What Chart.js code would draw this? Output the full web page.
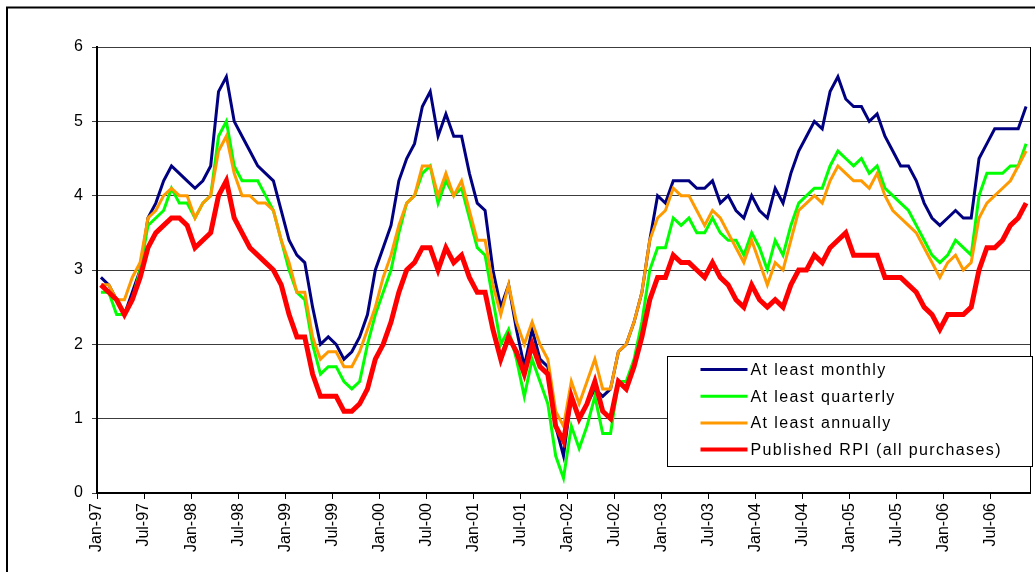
<!DOCTYPE html>
<html lang="fr">
<head>
<meta charset="utf-8">
<title>Inflation par fréquence d'achat</title>
<script src="https://cdn.jsdelivr.net/npm/chart.js@4.4.1/dist/chart.umd.min.js"></script>
<style>
  html, body { margin: 0; padding: 0; background: #fff; }
  #graphique { display: block; }
</style>
</head>
<body>
<canvas id="graphique" width="1035" height="572"></canvas>
<script>
// Catégories : un point par mois, de janvier 1997 à novembre 2006
const moisNoms = ['Jan', 'Feb', 'Mar', 'Apr', 'May', 'Jun', 'Jul', 'Aug', 'Sep', 'Oct', 'Nov', 'Dec'];
const annees = ['97', '98', '99', '00', '01', '02', '03', '04', '05', '06'];
const mois = [];
annees.forEach(a => moisNoms.forEach(m => mois.push(`${m}-${a}`)));
mois.length = 119;

// Graduations de l'axe vertical
const graduationsY = [0, 1, 2, 3, 4, 5, 6];

// Séries (en %)
const auMoinsMensuel = [
  2.9, 2.8, 2.6, 2.4, 2.7, 3.0, 3.7, 3.9, 4.2, 4.4, 4.3, 4.2,
  4.1, 4.2, 4.4, 5.4, 5.6, 5.0, 4.8, 4.6, 4.4, 4.3, 4.2, 3.8,
  3.4, 3.2, 3.1, 2.5, 2.0, 2.1, 2.0, 1.8, 1.9, 2.1, 2.4, 3.0,
  3.3, 3.6, 4.2, 4.5, 4.7, 5.2, 5.4, 4.8, 5.1, 4.8, 4.8, 4.3,
  3.9, 3.8, 3.0, 2.5, 2.8, 2.2, 1.7, 2.2, 1.8, 1.7, 0.9, 0.5,
  1.3, 1.0, 1.2, 1.4, 1.3, 1.4, 1.9, 2.0, 2.3, 2.7, 3.4, 4.0,
  3.9, 4.2, 4.2, 4.2, 4.1, 4.1, 4.2, 3.9, 4.0, 3.8, 3.7, 4.0,
  3.8, 3.7, 4.1, 3.9, 4.3, 4.6, 4.8, 5.0, 4.9, 5.4, 5.6, 5.3,
  5.2, 5.2, 5.0, 5.1, 4.8, 4.6, 4.4, 4.4, 4.2, 3.9, 3.7, 3.6,
  3.7, 3.8, 3.7, 3.7, 4.5, 4.7, 4.9, 4.9, 4.9, 4.9, 5.2
];
const auMoinsTrimestriel = [
  2.7, 2.7, 2.4, 2.4, 2.6, 3.0, 3.6, 3.7, 3.8, 4.1, 3.9, 3.9,
  3.7, 3.9, 4.0, 4.8, 5.0, 4.4, 4.2, 4.2, 4.2, 4.0, 3.8, 3.4,
  3.0, 2.7, 2.6, 2.0, 1.6, 1.7, 1.7, 1.5, 1.4, 1.5, 2.0, 2.4,
  2.7, 3.0, 3.5, 3.9, 4.0, 4.3, 4.4, 3.9, 4.2, 4.0, 4.1, 3.7,
  3.3, 3.2, 2.6, 2.0, 2.2, 1.8, 1.3, 1.8, 1.5, 1.2, 0.5, 0.2,
  0.9, 0.6, 0.9, 1.3, 0.8, 0.8, 1.5, 1.5, 1.8, 2.3, 3.0, 3.3,
  3.3, 3.7, 3.6, 3.7, 3.5, 3.5, 3.7, 3.5, 3.4, 3.4, 3.2, 3.5,
  3.3, 3.0, 3.4, 3.2, 3.6, 3.9, 4.0, 4.1, 4.1, 4.4, 4.6, 4.5,
  4.4, 4.5, 4.3, 4.4, 4.1, 4.0, 3.9, 3.8, 3.6, 3.4, 3.2, 3.1,
  3.2, 3.4, 3.3, 3.2, 4.0, 4.3, 4.3, 4.3, 4.4, 4.4, 4.7
];
const auMoinsAnnuel = [
  2.8, 2.8, 2.6, 2.6, 2.9, 3.1, 3.7, 3.8, 4.0, 4.1, 4.0, 4.0,
  3.7, 3.9, 4.0, 4.6, 4.8, 4.3, 4.0, 4.0, 3.9, 3.9, 3.8, 3.4,
  3.1, 2.7, 2.7, 2.1, 1.8, 1.9, 1.9, 1.7, 1.7, 1.9, 2.2, 2.5,
  2.9, 3.2, 3.6, 3.9, 4.0, 4.4, 4.4, 4.0, 4.3, 4.0, 4.2, 3.8,
  3.4, 3.4, 2.8, 2.4, 2.8, 2.3, 2.0, 2.3, 2.0, 1.8, 1.1, 0.9,
  1.5, 1.2, 1.5, 1.8, 1.4, 1.4, 1.9, 2.0, 2.3, 2.7, 3.4, 3.7,
  3.8, 4.1, 4.0, 4.0, 3.8, 3.6, 3.8, 3.7, 3.5, 3.3, 3.1, 3.4,
  3.1, 2.8, 3.1, 3.0, 3.4, 3.8, 3.9, 4.0, 3.9, 4.2, 4.4, 4.3,
  4.2, 4.2, 4.1, 4.3, 4.0, 3.8, 3.7, 3.6, 3.5, 3.3, 3.1, 2.9,
  3.1, 3.2, 3.0, 3.1, 3.7, 3.9, 4.0, 4.1, 4.2, 4.4, 4.6
];
const rpiPublie = [
  2.8, 2.7, 2.6, 2.4, 2.6, 2.9, 3.3, 3.5, 3.6, 3.7, 3.7, 3.6,
  3.3, 3.4, 3.5, 4.0, 4.2, 3.7, 3.5, 3.3, 3.2, 3.1, 3.0, 2.8,
  2.4, 2.1, 2.1, 1.6, 1.3, 1.3, 1.3, 1.1, 1.1, 1.2, 1.4, 1.8,
  2.0, 2.3, 2.7, 3.0, 3.1, 3.3, 3.3, 3.0, 3.3, 3.1, 3.2, 2.9,
  2.7, 2.7, 2.2, 1.8, 2.1, 1.9, 1.6, 2.0, 1.7, 1.6, 0.9, 0.7,
  1.3, 1.0, 1.2, 1.5, 1.1, 1.0, 1.5, 1.4, 1.7, 2.1, 2.6, 2.9,
  2.9, 3.2, 3.1, 3.1, 3.0, 2.9, 3.1, 2.9, 2.8, 2.6, 2.5, 2.8,
  2.6, 2.5, 2.6, 2.5, 2.8, 3.0, 3.0, 3.2, 3.1, 3.3, 3.4, 3.5,
  3.2, 3.2, 3.2, 3.2, 2.9, 2.9, 2.9, 2.8, 2.7, 2.5, 2.4, 2.2,
  2.4, 2.4, 2.4, 2.5, 3.0, 3.3, 3.3, 3.4, 3.6, 3.7, 3.9
];

const police = 'Arial, "Liberation Sans", sans-serif';

// Fond blanc, cadre extérieur, bord droit du tracé et légende encadrée
const cadrePlugin = {
  id: 'cadre',
  beforeDraw(chart) {
    const ctx = chart.ctx;
    ctx.save();
    ctx.fillStyle = '#ffffff';
    ctx.fillRect(0, 0, chart.width, chart.height);
    ctx.strokeStyle = '#000000';
    ctx.lineWidth = 2;
    ctx.strokeRect(7, 7.5, chart.width + 20, chart.height + 20);
    ctx.restore();
  },
  afterDatasetsDraw(chart) {
    const { ctx, chartArea } = chart;
    ctx.save();

    // Bord droit de la zone de tracé
    const xd = Math.round(chartArea.right) + 0.5;
    ctx.strokeStyle = '#000000';
    ctx.lineWidth = 1;
    ctx.beginPath();
    ctx.moveTo(xd, chartArea.top);
    ctx.lineTo(xd, chartArea.bottom);
    ctx.stroke();

    // Légende dans la zone de tracé, en bas à droite
    const lx = Math.round(chartArea.right) - 363 + 0.5;
    const ly = Math.round(chartArea.top) + 309 + 0.5;
    ctx.fillStyle = '#ffffff';
    ctx.fillRect(lx, ly, 365, 110);
    ctx.strokeStyle = '#000000';
    ctx.strokeRect(lx, ly, 365, 110);

    ctx.font = '16px ' + police;
    ctx.letterSpacing = '1.4px';
    ctx.textAlign = 'left';
    ctx.textBaseline = 'middle';
    chart.data.datasets.forEach((ds, i) => {
      const y = ly + 13 + i * 26.7;
      ctx.strokeStyle = ds.borderColor;
      ctx.lineWidth = Math.min(ds.borderWidth, 4);
      ctx.beginPath();
      ctx.moveTo(lx + 33, y);
      ctx.lineTo(lx + 80, y);
      ctx.stroke();
      ctx.fillStyle = '#000000';
      ctx.fillText(ds.label, lx + 83, y + 1);
    });
    ctx.restore();
  }
};

const ctx = document.getElementById('graphique');

window.graphique = new Chart(ctx, {
  type: 'line',
  data: {
    labels: mois,
    datasets: [
      {
        label: 'At least monthly',
        data: auMoinsMensuel,
        borderColor: '#000080',
        borderWidth: 3,
        order: 4
      },
      {
        label: 'At least quarterly',
        data: auMoinsTrimestriel,
        borderColor: '#00ff00',
        borderWidth: 3,
        order: 3
      },
      {
        label: 'At least annually',
        data: auMoinsAnnuel,
        borderColor: '#ff9900',
        borderWidth: 3,
        order: 2
      },
      {
        label: 'Published RPI (all purchases)',
        data: rpiPublie,
        borderColor: '#ff0000',
        borderWidth: 5,
        order: 1
      }
    ]
  },
  options: {
    responsive: false,
    animation: false,
    devicePixelRatio: 1,
    elements: {
      point: { radius: 0, hoverRadius: 0 },
      line: { tension: 0, fill: false }
    },
    layout: {
      padding: { left: 0, top: 47, right: 5, bottom: 0 }
    },
    scales: {
      x: {
        type: 'category',
        offset: true,
        // hauteur fixe et pas de marge automatique pour les étiquettes tournées
        afterFit: scale => {
          scale.height = 79;
          scale.paddingLeft = 0;
          scale.paddingRight = 0;
        },
        grid: {
          offset: true,
          drawOnChartArea: false,
          drawTicks: true,
          tickLength: 6,
          lineWidth: 1,
          color: c => (c.index % 6 === 0 ? '#000000' : 'rgba(0,0,0,0)')
        },
        border: { display: true, color: '#000000', width: 2 },
        ticks: {
          autoSkip: false,
          maxRotation: 90,
          minRotation: 90,
          labelOffset: -3.9,
          padding: 4,
          color: '#000000',
          font: { family: police, size: 16 },
          callback: (valeur, index) => (index % 6 === 0 ? mois[index] : '')
        }
      },
      y: {
        min: 0,
        max: 6,
        afterFit: scale => { scale.width = 97; },
        afterBuildTicks: axe => { axe.ticks = graduationsY.map(v => ({ value: v })); },
        grid: {
          color: '#3c3c3c',
          lineWidth: 1,
          drawTicks: true,
          tickLength: 5
        },
        border: { display: true, color: '#000000', width: 2 },
        ticks: {
          padding: 9,
          color: '#000000',
          font: { family: police, size: 16 }
        }
      }
    },
    plugins: {
      legend: { display: false },
      tooltip: { enabled: false },
      title: { display: false }
    }
  },
  plugins: [cadrePlugin]
});
</script>
</body>
</html>
